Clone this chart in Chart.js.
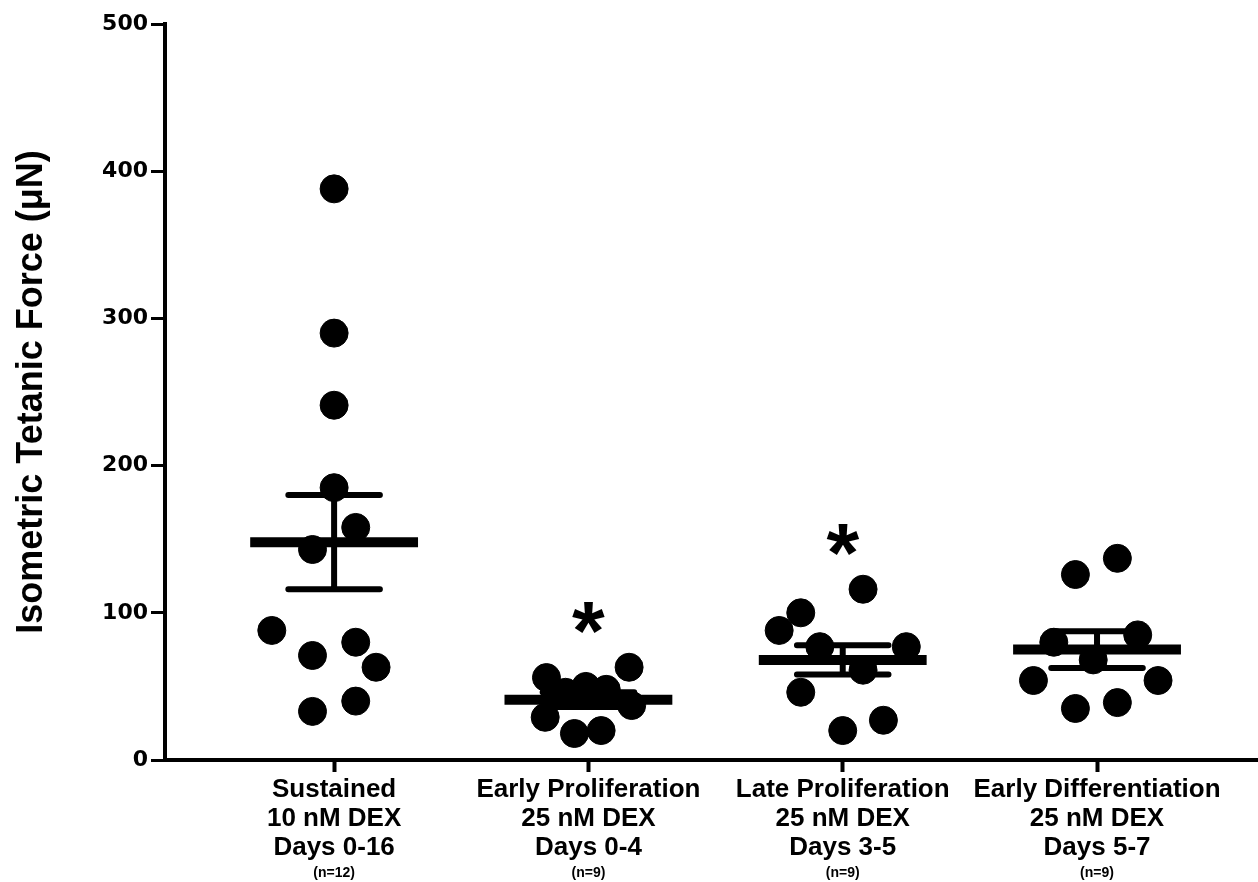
<!DOCTYPE html>
<html>
<head>
<meta charset="utf-8">
<script src="https://cdn.jsdelivr.net/npm/chart.js@4.4.1/dist/chart.umd.min.js"></script>
<style>
  html, body { margin: 0; padding: 0; background: #fff; overflow: hidden; }
  #wrap { width: 1258px; height: 882px; }
  canvas { display: block; }
</style>
</head>
<body>
<div id="wrap"><canvas id="grafico" width="1258" height="882"></canvas></div>
<script>
// groups along the x axis
const grupos = [
  ["Sustained", "10 nM DEX", "Days 0-16"],
  ["Early Proliferation", "25 nM DEX", "Days 0-4"],
  ["Late Proliferation", "25 nM DEX", "Days 3-5"],
  ["Early Differentiation", "25 nM DEX", "Days 5-7"]
];
const nLabels = ["(n=12)", "(n=9)", "(n=9)", "(n=9)"];

// individual measurements (uN) and their horizontal scatter inside each group
const sustained = [388, 290, 241, 185, 158, 143, 88, 80, 71, 63, 40, 33];
const sustainedJitter = [0, 0, 0, 0, 0.085, -0.085, -0.245, 0.085, -0.085, 0.165, 0.085, -0.085];
const earlyProlif = [63, 56, 50, 48, 46, 37, 29, 20, 18];
const earlyProlifJitter = [0.16, -0.165, -0.01, 0.07, -0.09, 0.17, -0.17, 0.05, -0.055];
const lateProlif = [116, 100, 88, 77, 77, 61, 46, 20, 27];
const lateProlifJitter = [0.08, -0.165, -0.25, -0.09, 0.25, 0.08, -0.165, 0, 0.16];
const earlyDiff = [126, 137, 80, 85, 68, 54, 54, 35, 39];
const earlyDiffJitter = [-0.085, 0.08, -0.17, 0.16, -0.015, -0.25, 0.24, -0.085, 0.08];

// mean +/- SEM
const medias = [148, 41, 68, 75];
const sem = [32, 5, 10, 12.5];
// significance marks (y position in uN)
const asteriscos = [null, 95, 148, null];

const yTicks = [0, 100, 200, 300, 400, 500];

const series = [sustained, earlyProlif, lateProlif, earlyDiff];
const jitters = [sustainedJitter, earlyProlifJitter, lateProlifJitter, earlyDiffJitter];

const pontos = [];
series.forEach((vals, g) => {
  vals.forEach((v, i) => pontos.push({ x: g + jitters[g][i], y: v }));
});

const linhaMedia = [];
const linhaSem = [];
medias.forEach((m, g) => {
  linhaMedia.push({ x: g - 0.33, y: m }, { x: g + 0.33, y: m }, { x: g, y: null });
  const hi = m + sem[g], lo = m - sem[g];
  linhaSem.push({ x: g - 0.18, y: hi }, { x: g + 0.18, y: hi }, { x: g, y: null });
  linhaSem.push({ x: g - 0.18, y: lo }, { x: g + 0.18, y: lo }, { x: g, y: null });
  linhaSem.push({ x: g, y: lo }, { x: g, y: hi }, { x: g, y: null });
});

const fonte = "'Liberation Sans', Arial, sans-serif";

const extras = {
  id: "extras",
  afterDraw(chart) {
    const { ctx, scales, chartArea } = chart;
    ctx.save();
    // x axis line runs to the right edge of the figure
    ctx.strokeStyle = "#000";
    ctx.lineWidth = 4;
    ctx.beginPath();
    ctx.moveTo(chartArea.right - 4, scales.x.top);
    ctx.lineTo(chart.width, scales.x.top);
    ctx.stroke();

    ctx.fillStyle = "#000";
    ctx.textAlign = "center";
    // asterisks
    ctx.font = "bold 84px " + fonte;
    ctx.textBaseline = "middle";
    asteriscos.forEach((a, g) => {
      if (a === null) return;
      ctx.fillText("*", scales.x.getPixelForValue(g), scales.y.getPixelForValue(a) + 17);
    });
    // n labels under categories
    ctx.font = "bold 14px " + fonte;
    ctx.textBaseline = "alphabetic";
    nLabels.forEach((t, g) => {
      ctx.fillText(t, scales.x.getPixelForValue(g), 877);
    });
    ctx.restore();
  }
};

new Chart(document.getElementById("grafico"), {
  type: "scatter",
  data: {
    datasets: [
      {
        data: pontos,
        backgroundColor: "#000",
        borderColor: "#000",
        pointRadius: 14,
        pointHoverRadius: 14
      },
      {
        type: "line",
        data: linhaMedia,
        borderColor: "#000",
        borderWidth: 10,
        pointRadius: 0,
        spanGaps: false,
        borderCapStyle: "butt"
      },
      {
        type: "line",
        data: linhaSem,
        borderColor: "#000",
        borderWidth: 6,
        pointRadius: 0,
        spanGaps: false,
        borderCapStyle: "round"
      }
    ]
  },
  options: {
    responsive: false,
    animation: false,
    layout: { padding: { top: 24, right: 0, left: 0, bottom: 0 } },
    plugins: { legend: { display: false }, tooltip: { enabled: false } },
    scales: {
      x: {
        type: "linear",
        min: -0.665,
        max: 3.574,
        afterBuildTicks: (s) => { s.ticks = grupos.map((_, i) => ({ value: i })); },
        afterFit: (s) => { s.height = 122; s.paddingLeft = 0; s.paddingRight = 0; },
        border: { display: true, color: "#000", width: 4 },
        grid: { drawOnChartArea: false, drawTicks: true, tickLength: 12, tickWidth: 4, color: "#000" },
        ticks: {
          color: "#000",
          padding: 4,
          maxRotation: 0,
          autoSkip: false,
          font: { family: fonte, weight: "bold", size: 26, lineHeight: 1.1 },
          callback: (v) => grupos[v]
        }
      },
      y: {
        min: 0,
        max: 500,
        afterBuildTicks: (s) => { s.ticks = yTicks.map((v) => ({ value: v })); },
        afterFit: (s) => { s.width = 165; },
        border: { display: true, color: "#000", width: 4 },
        grid: { drawOnChartArea: false, drawTicks: true, tickLength: 14, tickWidth: 3, color: "#000" },
        ticks: {
          color: "#000",
          padding: 3,
          font: { family: "'DejaVu Sans', sans-serif", weight: "bold", size: 22 }
        },
        title: {
          display: true,
          text: "Isometric Tetanic Force (μN)",
          color: "#000",
          padding: { top: 10, bottom: 0 },
          font: { family: fonte, weight: "bold", size: 36 }
        }
      }
    }
  },
  plugins: [extras]
});
</script>
</body>
</html>
